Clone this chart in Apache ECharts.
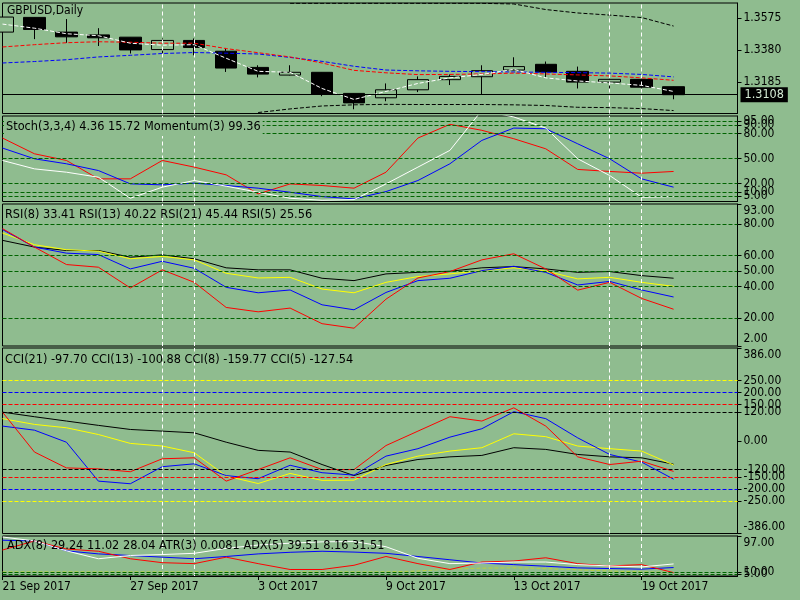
<!doctype html>
<html lang="en">
  <head>
    <meta charset="UTF-8" />
    <title>GBPUSD Daily</title>
    <script src="https://cdn.jsdelivr.net/npm/echarts@6/dist/echarts.min.js"></script>
    <style>
      * { margin: 0; padding: 0; }
      html, body, #chart { width: 100%; height: 100%; overflow: hidden; background: #8fbc8f; }
    </style>
  </head>
  <body>
    <div id="chart"></div>
    <script>
      // bars
      const dates = ['21 Sep 2017', '22 Sep 2017', '25 Sep 2017', '26 Sep 2017', '27 Sep 2017', '28 Sep 2017',
        '29 Sep 2017', '2 Oct 2017', '3 Oct 2017', '4 Oct 2017', '5 Oct 2017', '6 Oct 2017', '9 Oct 2017',
        '10 Oct 2017', '11 Oct 2017', '12 Oct 2017', '13 Oct 2017', '16 Oct 2017', '17 Oct 2017',
        '18 Oct 2017', '19 Oct 2017', '20 Oct 2017'];
      const opens = [1.3491, 1.3581, 1.3491, 1.3474, 1.3460, 1.3384, 1.3440, 1.3374, 1.3275, 1.3228, 1.3245,
        1.3116, 1.3089, 1.3138, 1.3200, 1.3218, 1.3259, 1.3294, 1.3251, 1.3185, 1.3202, 1.3157];
      const closes = [1.3583, 1.3507, 1.3462, 1.3456, 1.3382, 1.3440, 1.3397, 1.3271, 1.3234, 1.3245, 1.3111,
        1.3058, 1.3138, 1.3200, 1.3220, 1.3255, 1.3280, 1.3247, 1.3185, 1.3202, 1.3154, 1.3108];
      const lows = [1.3485, 1.3448, 1.3425, 1.3406, 1.3360, 1.3339, 1.3349, 1.3247, 1.3214, 1.3226, 1.3099,
        1.3019, 1.3068, 1.3124, 1.3167, 1.3111, 1.3258, 1.3216, 1.3146, 1.3128, 1.3128, 1.3080];
      const highs = [1.3600, 1.3583, 1.3571, 1.3515, 1.3461, 1.3452, 1.3452, 1.3394, 1.3288, 1.3288, 1.3246,
        1.3117, 1.3177, 1.3220, 1.3232, 1.3288, 1.3337, 1.3311, 1.3280, 1.3212, 1.3222, 1.3158];

      // price overlays
      const maRed = [1.3400, 1.3414, 1.3426, 1.3432, 1.3429, 1.3423, 1.3423, 1.3390, 1.3365, 1.3339, 1.3302,
        1.3257, 1.3242, 1.3231, 1.3232, 1.3235, 1.3240, 1.3235, 1.3229, 1.3223, 1.3211, 1.3196];
      const maBlue = [1.3302, 1.3311, 1.3322, 1.3339, 1.3349, 1.3360, 1.3366, 1.3362, 1.3357, 1.3336, 1.3312,
        1.3282, 1.3259, 1.3254, 1.3251, 1.3249, 1.3247, 1.3245, 1.3243, 1.3240, 1.3232, 1.3217];
      const maWhite = [1.3540, 1.3515, 1.3481, 1.3469, 1.3423, 1.3411, 1.3414, 1.3331, 1.3251, 1.3245, 1.3146,
        1.3079, 1.3128, 1.3177, 1.3211, 1.3232, 1.3263, 1.3211, 1.3192, 1.3180, 1.3165, 1.3128];
      const bandUpper = [null, null, null, null, null, null, null, null, null, 1.3667, 1.3667, 1.3667, 1.3667,
        1.3667, 1.3667, 1.3667, 1.3663, 1.3629, 1.3608, 1.3595, 1.3580, 1.3528];
      const bandLower = [null, null, null, null, null, null, null, null, 1.2999, 1.3021, 1.3039, 1.3046, 1.3049,
        1.3048, 1.3048, 1.3048, 1.3046, 1.3042, 1.3031, 1.3029, 1.3023, 1.3011];
      const priceTicks = [1.3575, 1.3380, 1.3185];

      // stochastic / momentum
      const stochRed = [74.7, 55.8, 47.8, 25.7, 25.7, 47.8, 39.8, 30.5, 7.6, 19.6, 17.7, 14.5, 33.7, 74.7, 91.2,
        84.0, 73.9, 61.8, 37.0, 34.6, 32.5, 34.6];
      const stochBlue = [62.7, 49.8, 43.8, 35.7, 19.7, 18.5, 20.5, 17.7, 14.5, 9.6, 4.4, 1.6, 10.4, 23.7, 43.8,
        71.9, 86.7, 85.9, 67.8, 49.8, 25.7, 15.72];
      const stochWhite = [47.8, 37.7, 33.7, 27.7, 2.4, 15.7, 23.7, 16.9, 9.6, 2.4, 0.0, 0.8, 19.6, 39.8, 59.9,
        108.0, 100.0, 86.7, 49.8, 29.7, 3.6, 4.36];
      const stochLevels = [95, 90, 80, 50, 20, 10, 5];

      // RSI
      const rsi5 = [77.2, 65.4, 54.2, 52.5, 39.2, 50.8, 42.8, 26.7, 23.9, 26.3, 16.3, 13.4, 32.0, 45.6, 49.7,
        57.2, 61.1, 51.4, 37.8, 42.8, 32.5, 25.56];
      const rsi8 = [76.6, 65.4, 61.5, 60.6, 51.4, 56.3, 51.8, 39.6, 36.1, 37.9, 28.4, 25.2, 36.3, 43.9, 45.4,
        50.3, 53.1, 49.2, 41.1, 43.4, 37.9, 33.41];
      const rsi13 = [74.4, 66.9, 63.7, 62.8, 57.9, 59.4, 57.2, 48.6, 45.6, 46.0, 38.5, 36.1, 42.8, 46.5, 48.2,
        50.3, 52.1, 50.0, 45.0, 46.0, 42.8, 40.22];
      const rsi21 = [69.7, 65.4, 63.2, 63.2, 58.9, 60.4, 57.9, 52.1, 50.8, 50.8, 45.4, 43.9, 48.2, 49.2, 49.9,
        52.1, 52.9, 51.4, 49.2, 49.7, 47.1, 45.44];
      const rsiLevels = [80, 60, 50, 40, 20];

      // CCI
      const cci21 = [119, 100, 82, 64, 47, 40, 33, -6, -40, -47, -99, -145, -103, -78, -67, -61, -29, -36, -57,
        -67, -71, -97.70];
      const cci13 = [92, 68, 54, 26, -11, -22, -50, -147, -178, -136, -165, -164, -99, -64, -43, -29, 29, 17, -22,
        -33, -43, -100.88];
      const cci8 = [61, 44, -6, -168, -179, -108, -96, -145, -158, -102, -133, -143, -64, -33, 15, 50, 121, 92, 12,
        -57, -89, -159.77];
      const cci5 = [119, -47, -113, -117, -129, -75, -71, -168, -120, -71, -120, -120, -20, 40, 100, 82, 137, 61,
        -67, -99, -85, -127.54];
      const cciLevels = [250, 200, 150, 120, -120, -150, -200, -250];
      const cciLevelColors = ['#ffff00', '#0000ff', '#ff0000', '#000000', '#000000', '#ff0000', '#0000ff', '#ffff00'];

      // ADX / ATR
      const adxWhite = [94.6, 85, 61, 41.8, 49.7, 52, 55, 67, 75, 79.6, 82.8, 83.6, 71, 43, 30, 31.5, 33.9, 33.9,
        27.6, 24.4, 22, 29.24];
      const adxRed = [63, 85, 65.5, 60, 41.8, 32.3, 30, 45.7, 30, 15.8, 15.8, 26, 47.3, 30, 15.8, 33.9, 36.3, 44.2,
        30, 24.4, 27.6, 8.16];
      const adxBlue = [86.8, 85, 61, 53.6, 49.7, 45.7, 41.8, 47.3, 53.6, 57.5, 60, 58, 55, 47.3, 39.4, 31.5, 27.6,
        23.7, 19.7, 18.1, 16.6, 20.5];
      const atrLine = [10, 10, 10, 10, 10, 10, 10, 10, 10, 10, 10, 10, 10, 12, 17, 19, 20, 18, 15, 12, 10, 9];
      const adxLevels = [10, 5];

      // vertical separators
      const vLines = ['28 Sep 2017', '29 Sep 2017', '18 Oct 2017', '19 Oct 2017'];

      const BG = '#8fbc8f';
      const FONT = '"DejaVu Sans Condensed", "Liberation Sans Narrow", "DejaVu Sans", sans-serif';
      const categories = dates.concat(['', '']);

      const panels = [
        { top: 3, height: 110.5, min: 1.2993, max: 1.3669, ticks: priceTicks, digits: 4, edges: false },
        { top: 116, height: 85.5, min: -1.5, max: 101.2, ticks: stochLevels, digits: 2, edges: true },
        { top: 204, height: 142, min: 2, max: 93, ticks: rsiLevels, digits: 2, edges: true },
        { top: 348, height: 185.5, min: -386, max: 386, ticks: [250, 200, 150, 120, 0, -120, -150, -200, -250], digits: 2, edges: true },
        { top: 536, height: 40, min: 0, max: 97, ticks: adxLevels, digits: 2, edges: true },
      ];

      const grid = panels.map((p) => ({
        left: 2.5, width: 735, top: p.top, height: p.height,
        show: true, borderColor: '#000', borderWidth: 1, backgroundColor: 'transparent',
        outerBoundsMode: 'none', containLabel: false,
      }));

      const xAxis = panels.map((p, i) => {
        const last = i === panels.length - 1;
        return {
          type: 'category', gridIndex: i, data: categories, boundaryGap: false,
          axisLine: { show: last, lineStyle: { color: '#000' } },
          axisTick: { show: last, interval: 3, length: 4, lineStyle: { color: '#000' } },
          axisLabel: { show: last, interval: 3, align: 'left', margin: 5, color: '#000', fontSize: 12, fontFamily: FONT },
          splitLine: { show: false },
        };
      });

      const yAxis = panels.map((p, i) => {
        const marks = p.edges ? [p.max].concat(p.ticks, [p.min]) : p.ticks;
        return {
          type: 'value', gridIndex: i, position: 'right', min: p.min, max: p.max,
          splitLine: { show: false },
          axisLine: { show: true, lineStyle: { color: '#000' } },
          axisTick: { show: true, length: 4, lineStyle: { color: '#000' }, customValues: marks },
          axisLabel: {
            customValues: marks, margin: 6, color: '#000', fontSize: 12, fontFamily: FONT,
            formatter: (v) => {
              const s = v.toFixed(p.digits);
              if (p.edges && v === p.max) return '{t|' + s + '}';
              if (p.edges && v === p.min) return '{b|' + s + '}';
              return s;
            },
            rich: {
              t: { padding: [14, 0, 0, 0], fontSize: 12, fontFamily: FONT, color: '#000' },
              b: { padding: [0, 0, 14, 0], fontSize: 12, fontFamily: FONT, color: '#000' },
            },
          },
        };
      });

      function line(gi, data, color, dashed, extra) {
        return Object.assign({
          type: 'line', xAxisIndex: gi, yAxisIndex: gi, data: data, symbol: 'none',
          silent: true, animation: false, z: 3, clip: true,
          lineStyle: { color: color, width: 1, type: dashed ? [4, 2] : 'solid' },
        }, extra || {});
      }

      function guides(levels, colors) {
        const data = vLines.map((d) => ({ xAxis: d, lineStyle: { color: '#ffffff', type: [4, 3], width: 1 } }));
        levels.forEach((v, k) => {
          data.push({ yAxis: v, lineStyle: { color: colors ? colors[k] : '#006400', type: [4, 2], width: 1 } });
        });
        return { symbol: 'none', silent: true, animation: false, label: { show: false }, data: data };
      }

      const lastPrice = closes[closes.length - 1];

      const series = [
        {
          type: 'candlestick', xAxisIndex: 0, yAxisIndex: 0, silent: true, animation: false, barWidth: 22, clip: true,
          data: dates.map((d, i) => [opens[i], closes[i], lows[i], highs[i]]),
          itemStyle: { color: BG, color0: '#000', borderColor: '#000', borderColor0: '#000', borderWidth: 1 },
          markLine: {
            symbol: 'none', silent: true, animation: false, precision: 4,
            data: [{ yAxis: lastPrice }],
            lineStyle: { color: '#000', type: 'solid', width: 1 },
            label: {
              show: true, position: 'end', distance: 3, formatter: () => lastPrice.toFixed(4),
              backgroundColor: '#000', color: '#d4ead4', padding: [1, 4, 1, 4], fontSize: 12.5, fontFamily: FONT,
            },
          },
        },
        line(0, bandUpper, '#000', true),
        line(0, bandLower, '#000', true),
        line(0, maBlue, '#0000ff', true, { markLine: guides([]) }),
        line(0, maRed, '#ff0000', true),
        line(0, maWhite, '#ffffff', true),

        line(1, stochRed, '#ff0000', false, { markLine: guides(stochLevels) }),
        line(1, stochBlue, '#0000ff', false),
        line(1, stochWhite, '#ffffff', false),

        line(2, rsi21, '#000000', false, { markLine: guides(rsiLevels) }),
        line(2, rsi13, '#ffff00', false),
        line(2, rsi8, '#0000ff', false),
        line(2, rsi5, '#ff0000', false),

        line(3, cci21, '#000000', false, { markLine: guides(cciLevels, cciLevelColors) }),
        line(3, cci13, '#ffff00', false),
        line(3, cci8, '#0000ff', false),
        line(3, cci5, '#ff0000', false),

        line(4, atrLine, '#b8d040', true, { markLine: guides(adxLevels) }),
        line(4, adxBlue, '#0000ff', false),
        line(4, adxRed, '#ff0000', false),
        line(4, adxWhite, '#ffffff', false),
      ];

      const label = (text, left, top, size, boxed) => ({
        type: 'text', left: left, top: top, z: 10, silent: true,
        style: Object.assign({ text: text, fill: '#000', fontSize: size, fontFamily: FONT },
          boxed ? { backgroundColor: BG, padding: [2, 2, 3, 2] } : {}),
      });

      const chart = echarts.init(document.getElementById('chart'));
      chart.setOption({
        backgroundColor: BG,
        animation: false,
        textStyle: { fontFamily: FONT },
        grid: grid,
        xAxis: xAxis,
        yAxis: yAxis,
        series: series,
        graphic: [
          label('GBPUSD,Daily', 7, 5, 12),
          label('Stoch(3,3,4) 4.36 15.72 Momentum(3) 99.36', 4, 118, 12.6, true),
          label('RSI(8) 33.41 RSI(13) 40.22 RSI(21) 45.44 RSI(5) 25.56', 5, 208, 12.6),
          label('CCI(21) -97.70 CCI(13) -100.88 CCI(8) -159.77 CCI(5) -127.54', 5, 353, 12.6),
          label('ADX(8) 29.24 11.02 28.04 ATR(3) 0.0081 ADX(5) 39.51 8.16 31.51', 7, 539, 12.6),
        ],
      });
    </script>
  </body>
</html>
